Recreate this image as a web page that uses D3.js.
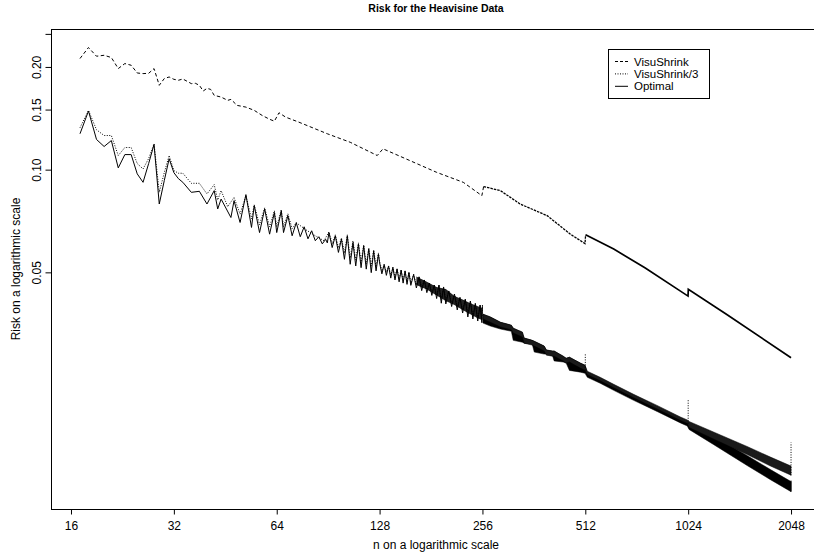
<!DOCTYPE html>
<html>
<head>
<meta charset="utf-8">
<script src="https://d3js.org/d3.v7.min.js"></script>
<style>
body { margin: 0; background: #fff; }
svg text { font-family: "Liberation Sans", Arial, Helvetica, sans-serif; fill: #000; }
</style>
</head>
<body>
<div id="chart"></div>
<script>
// risk values, [n, risk]
const visuShrink = [[17,0.2117],[18,0.2280],[19,0.2150],[20,0.2164],[21,0.2131],[22,0.1978],[23,0.2046],[24,0.2023],
  [25,0.1920],[26,0.1912],[27,0.1916],[28,0.1978],[29,0.1767],[30,0.1849],[31,0.1869],[32,0.1840],[33,0.1828],
  [34,0.1844],[35,0.1815],[36,0.1787],[37,0.1791],[38,0.1767],[39,0.1700],[40,0.1731],[41,0.1719],[42,0.1651],
  [44,0.1632],[46,0.1596],[47,0.1607],[49,0.1543],[52,0.1525],[55,0.1492],[58,0.1442],[61,0.1405],[63,0.1387],
  [65,0.1468],[68,0.1425],[74,0.1380],[90,0.1274],[105,0.1203],[126,0.1100],[131,0.1151],[157,0.1063],[188,0.0982],
  [225,0.0918],[255,0.0839],[258,0.0892],[289,0.0868],[330,0.0793],[396,0.0733],[463,0.0647],[511,0.0607],
  [513,0.0644],[620,0.0585],[765,0.0516],[1023,0.0426],[1025,0.0446],[1325,0.0377],[2048,0.0281]]

const visuShrink3 = [[17,0.1327],[18,0.1492],[19,0.1309],[20,0.1259],[21,0.1259],[22,0.1100],[23,0.1161],[24,0.1161],
  [25,0.1042],[26,0.1005],[27,0.1078],[28,0.1190],[29,0.0858],[30,0.0980],[31,0.1100],[32,0.0994],[33,0.0976],
  [34,0.0976],[36,0.0912],[38,0.0912],[40,0.0849],[42,0.0904],[43,0.0815],[44,0.0868],[46,0.0779],[48,0.0829],
  [50,0.0741],[52,0.0839],[54,0.0718],[55,0.0789],[57,0.0689],[59,0.0773],[61,0.0680],[63,0.0758],[64,0.0680],
  [66,0.0763],[67,0.0680],[69,0.0743],[71,0.0671],[73,0.0699],[78,0.0666],[83,0.0640],[88,0.0619],[91,0.0657],
  [93,0.0606],[95,0.0644],[97,0.0590],[99,0.0631],[101,0.0570],[103,0.0644],[105,0.0551],[107,0.0619],[109,0.0544],
  [111,0.0610],[113,0.0537],[115,0.0602],[117,0.0529],[119,0.0590],[121,0.0522],[123,0.0582],[125,0.0519],
  [127,0.0570],[128,0.0540],[130,0.0505],[132,0.0527],[134,0.0500],[136,0.0522],[138,0.0490],[140,0.0517],
  [142,0.0484],[144,0.0512],[146,0.0478],[148,0.0508],[150,0.0474],[152,0.0505],[154,0.0470],[156,0.0500],
  [158,0.0467],[161,0.0493],[164,0.0459],[167,0.0485],[170,0.0451],[173,0.0475],[176,0.0445],[179,0.0465],
  [182,0.0437],[185,0.0459],[188,0.0428],[191,0.0459],[194,0.0415],[197,0.0453],[200,0.0412],[204,0.0441],
  [208,0.0405],[212,0.0432],[216,0.0396],[220,0.0422],[224,0.0388],[228,0.0417],[232,0.0378],[236,0.0412],
  [240,0.0372],[244,0.0405],[248,0.0367],[252,0.0401],[255,0.0363],[256,0.0402]]

const optimal = [[17,0.1274],[18,0.1485],[19,0.1226],[20,0.1169],[21,0.1217],[22,0.1012],[23,0.1107],[24,0.1107],
  [25,0.0972],[26,0.0918],[27,0.1042],[28,0.1185],[29,0.0793],[30,0.0929],[31,0.1076],[32,0.0980],[33,0.0941],
  [34,0.0918],[36,0.0858],[38,0.0864],[40,0.0793],[42,0.0868],[43,0.0767],[44,0.0820],[47,0.0724],[48,0.0811],
  [50,0.0700],[52,0.0845],[54,0.0677],[55,0.0784],[57,0.0654],[59,0.0767],[61,0.0647],[63,0.0749],[64,0.0654],
  [66,0.0758],[67,0.0654],[69,0.0733],[71,0.0640],[73,0.0699],[75,0.0636],[77,0.0680],[79,0.0627],[81,0.0662],
  [83,0.0619],[85,0.0636],[87,0.0606],[89,0.0625],[90,0.0610],[91,0.0654],[93,0.0591],[95,0.0640],[97,0.0572],
  [99,0.0626],[101,0.0546],[103,0.0640],[105,0.0528],[107,0.0611],[109,0.0522],[111,0.0605],[113,0.0516],
  [115,0.0598],[117,0.0511],[119,0.0585],[121,0.0499],[123,0.0578],[125,0.0505],[127,0.0565],[128,0.0533],
  [130,0.0495],[132,0.0527],[134,0.0490],[136,0.0522],[138,0.0481],[140,0.0517],[142,0.0475],[144,0.0512],
  [146,0.0469],[148,0.0508],[150,0.0465],[152,0.0505],[154,0.0461],[156,0.0500],[158,0.0458],[161,0.0493],
  [164,0.0450],[167,0.0485],[170,0.0442],[173,0.0475],[176,0.0436],[179,0.0465],[182,0.0428],[185,0.0459],
  [188,0.0419],[191,0.0459],[194,0.0406],[197,0.0453],[200,0.0404],[204,0.0441],[208,0.0397],[212,0.0432],
  [216,0.0388],[220,0.0422],[224,0.0380],[228,0.0417],[232,0.0370],[236,0.0412],[240,0.0365],[244,0.0405],
  [248,0.0360],[252,0.0401],[255,0.0356],[256,0.0398]]

// where the oscillation is too dense to resolve, the curves read as bands: [n, high, low]
const optimalCore = [[164,0.0486,0.0459],[176,0.0469,0.0445],[188,0.0453,0.0428],[200,0.0447,0.0412],
  [212,0.0426,0.0401],[224,0.0416,0.0388],[236,0.0406,0.0377],[248,0.0398,0.0367],[256,0.0393,0.0362]]

const visuShrink3Band = [[257,0.0377,0.0365],[270,0.0370,0.0357],[289,0.0357,0.0346],[311,0.0350,0.0339],
  [315,0.0343,0.0332],[335,0.0334,0.0323],[339,0.0321,0.0310],[358,0.0316,0.0306],[363,0.0314,0.0304],
  [388,0.0304,0.0294],[394,0.0296,0.0286],[410,0.0294,0.0284],[415,0.0294,0.0284],[441,0.0284,0.0275],
  [450,0.0280,0.0271],[460,0.0282,0.0273],[495,0.0271,0.0262],[511,0.0267,0.0258],[519,0.02565,0.02505],
  [566,0.02463,0.02405],[620,0.02349,0.02294],[709,0.02195,0.02144],[830,0.02037,0.01989],[972,0.01884,0.01840],
  [1018,0.01846,0.01803],[1030,0.01828,0.01755],[1214,0.01703,0.01624],[1523,0.01544,0.01462],
  [1783,0.01437,0.01353],[2048,0.01353,0.01272]]

const optimalBand = [[257,0.0377,0.0355],[270,0.0370,0.0348],[289,0.0357,0.0341],[311,0.0350,0.0336],
  [315,0.0343,0.0316],[335,0.0334,0.0312],[339,0.0321,0.0310],[358,0.0316,0.0308],[363,0.0314,0.0292],
  [388,0.0304,0.0288],[394,0.0296,0.0288],[410,0.0294,0.0286],[415,0.0294,0.0275],[441,0.0284,0.0273],
  [450,0.0280,0.0271],[460,0.0282,0.0258],[495,0.0271,0.0255],[511,0.0267,0.0253],[519,0.02539,0.02463],
  [566,0.02438,0.02365],[620,0.02325,0.02255],[709,0.02173,0.02108],[830,0.02016,0.01956],[972,0.01866,0.01810],
  [1018,0.01828,0.01773],[1030,0.01803,0.01732],[1214,0.01652,0.01565],[1523,0.01452,0.01358],
  [1783,0.01321,0.01234],[2048,0.01218,0.01138]]

// jumps at powers of two: [n, from, to]
const visuShrink3Spikes = [[512,0.0258,0.0288],[1024,0.0180,0.02122],[2048,0.0127,0.01586]]
const optimalSpikes = [[2048,0.01138,0.01226]]

const xTicks = [16, 32, 64, 128, 256, 512, 1024, 2048]
const yTicks = [0.05, 0.10, 0.15, 0.20, 0.25]
const yTickLabels = ["0.05", "0.10", "0.15", "0.20", ""]
const seriesNames = ["VisuShrink", "VisuShrink/3", "Optimal"]
const seriesDash = ["3,2", "1,1.5", null]

const width = 814, height = 553
const plot = {left: 51.5, right: 819.5, top: 29.5, bottom: 509.5}

const svg = d3.select("#chart").append("svg")
  .attr("width", width)
  .attr("height", height)

const x = d3.scaleLog().base(2).domain([14.03, 2481]).range([plot.left, plot.right])
const y = d3.scaleLog().domain([0.01009, 0.2575]).range([plot.bottom, plot.top])

svg.append("defs").append("clipPath").attr("id", "clip")
  .append("rect")
  .attr("x", plot.left).attr("y", plot.top)
  .attr("width", plot.right - plot.left).attr("height", plot.bottom - plot.top)

const g = svg.append("g").attr("clip-path", "url(#clip)")

const line = d3.line().x(d => x(d[0])).y(d => y(d[1]))
const band = d3.area().x(d => x(d[0])).y0(d => y(d[2])).y1(d => y(d[1]))

// bands first
g.append("path").datum(optimalCore)
  .attr("d", band).attr("fill", "#222")
g.append("path").datum(optimalBand)
  .attr("d", band).attr("fill", "#000").attr("stroke", "#000").attr("stroke-width", 0.5)
g.append("path").datum(visuShrink3Band)
  .attr("d", band).attr("fill", "#1a1a1a").attr("stroke", "#000").attr("stroke-width", 0.5)

// VisuShrink: the dash texture fills in as n grows, so draw it in three pieces
const visuPieces = [
  {data: visuShrink.filter(d => d[0] <= 258), dash: "3.5,2.5", w: 1},
  {data: visuShrink.filter(d => d[0] >= 258 && d[0] <= 513), dash: "2.5,1", w: 1.3},
  {data: visuShrink.filter(d => d[0] >= 513), dash: null, w: 1.7}
]
g.selectAll(".visu").data(visuPieces).enter().append("path")
  .attr("d", d => line(d.data)).attr("fill", "none").attr("stroke", "#000")
  .attr("stroke-width", d => d.w)
  .attr("stroke-dasharray", d => d.dash)

g.append("path").datum(visuShrink3)
  .attr("d", line).attr("fill", "none").attr("stroke", "#000")
  .attr("stroke-dasharray", seriesDash[1])
g.append("path").datum(optimal)
  .attr("d", line).attr("fill", "none").attr("stroke", "#000")

// spikes
g.selectAll(".spike3").data(visuShrink3Spikes).enter().append("line")
  .attr("x1", d => x(d[0])).attr("x2", d => x(d[0]))
  .attr("y1", d => y(d[1])).attr("y2", d => y(d[2]))
  .attr("stroke", "#000").attr("stroke-dasharray", "1,1.5")
g.selectAll(".spikeO").data(optimalSpikes).enter().append("line")
  .attr("x1", d => x(d[0])).attr("x2", d => x(d[0]))
  .attr("y1", d => y(d[1])).attr("y2", d => y(d[2]))
  .attr("stroke", "#000")

// box
svg.append("rect")
  .attr("x", plot.left).attr("y", plot.top)
  .attr("width", plot.right - plot.left).attr("height", plot.bottom - plot.top)
  .attr("fill", "none").attr("stroke", "#000")

// axes
const xAxis = svg.append("g")
  .attr("transform", "translate(0," + plot.bottom + ")")
  .call(d3.axisBottom(x).tickValues(xTicks).tickFormat(d3.format("d")).tickSize(5).tickPadding(7))
xAxis.select(".domain").remove()
xAxis.selectAll("text").attr("font-size", 12).attr("font-family", null)

const yAxis = svg.append("g")
  .attr("transform", "translate(" + plot.left + ",0)")
  .call(d3.axisLeft(y).tickValues(yTicks).tickFormat((d, i) => yTickLabels[i]).tickSize(6))
yAxis.select(".domain").remove()
yAxis.selectAll("text")
  .attr("font-size", 12).attr("font-family", null)
  .attr("x", 0).attr("dy", 0)
  .attr("text-anchor", "middle")
  .attr("transform", "translate(-11,0) rotate(-90)")

// titles
svg.append("text")
  .attr("x", 436).attr("y", 12)
  .attr("text-anchor", "middle")
  .attr("font-weight", "bold").attr("font-size", 10.5)
  .text("Risk for the Heavisine Data")

svg.append("text")
  .attr("x", 436).attr("y", 548.5)
  .attr("text-anchor", "middle").attr("font-size", 12)
  .text("n on a logarithmic scale")

svg.append("text")
  .attr("transform", "translate(19.5,269) rotate(-90)")
  .attr("text-anchor", "middle").attr("font-size", 12)
  .text("Risk on a logarithmic scale")

// legend
const legend = svg.append("g").attr("transform", "translate(608.5,49.5)")
legend.append("rect")
  .attr("width", 101).attr("height", 49)
  .attr("fill", "#fff").attr("stroke", "#000")

const item = legend.selectAll(".item").data(seriesNames).enter().append("g")
  .attr("transform", (d, i) => "translate(0," + (12 + i * 12.4) + ")")
item.append("line")
  .attr("x1", 6.5).attr("x2", 19.5)
  .attr("stroke", "#000")
  .attr("stroke-dasharray", (d, i) => seriesDash[i])
item.append("text")
  .attr("x", 25.5).attr("y", 4)
  .attr("font-size", 11.5)
  .text(d => d)
</script>
</body>
</html>
